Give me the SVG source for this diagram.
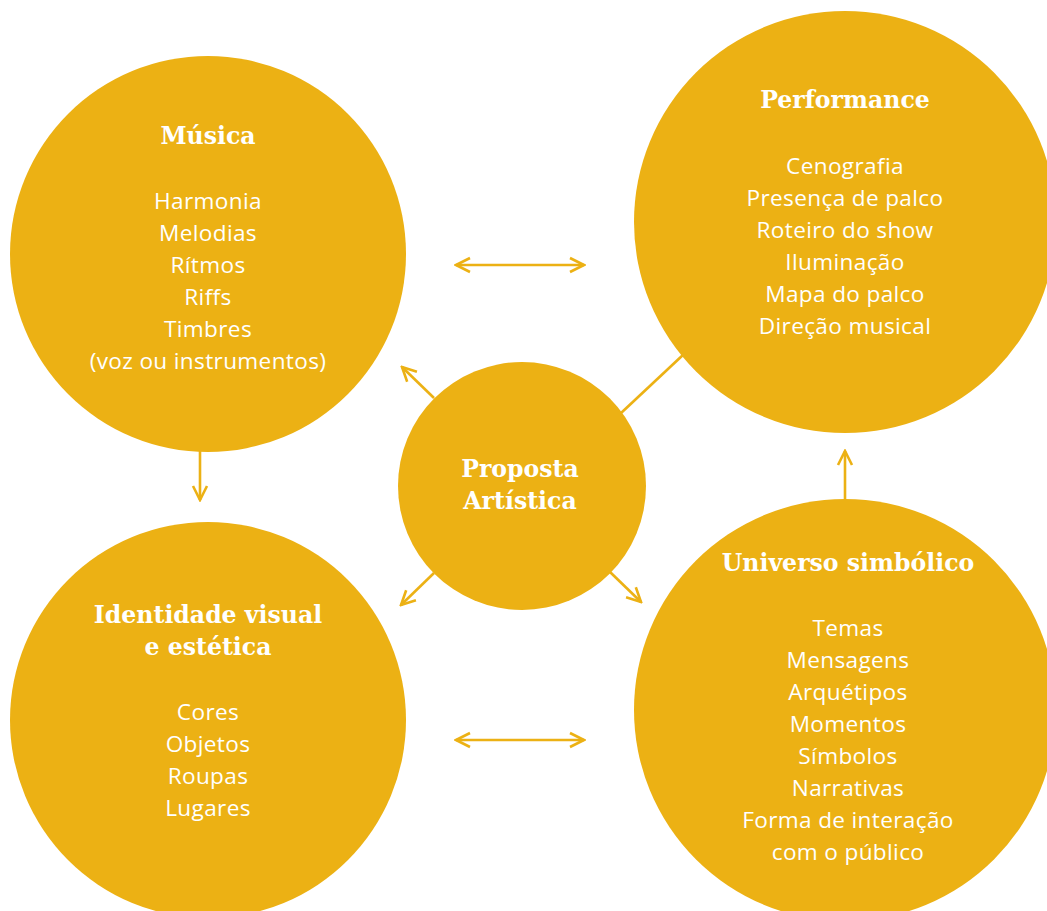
<svg xmlns="http://www.w3.org/2000/svg" width="1047" height="911" viewBox="0 0 1047 911">
  <style>
    .node { fill: #ECB114; }
    .title { font-family: "DejaVu Serif", "Liberation Serif", serif; font-weight: bold; font-size: 23.6px; fill: #ffffff; text-anchor: middle; }
    .item { font-family: "Open Sans", "Noto Sans", sans-serif; font-size: 22.6px; letter-spacing: 0.35px; fill: #ffffff; text-anchor: middle; }
    .link { stroke: #ECB114; stroke-width: 2.6; fill: none; }
  </style>
  <defs>
    <marker id="head" viewBox="0 0 20 20" refX="18" refY="10" markerWidth="20" markerHeight="20" markerUnits="userSpaceOnUse" orient="auto-start-reverse">
      <path d="M4 3 L18 10 L4 17" fill="none" stroke="#ECB114" stroke-width="2.6"/>
    </marker>
  </defs>

  <g id="connectors">
    <line class="link" x1="456" y1="265" x2="584" y2="265" marker-start="url(#head)" marker-end="url(#head)"/>
    <line class="link" x1="456" y1="740" x2="584" y2="740" marker-start="url(#head)" marker-end="url(#head)"/>
    <line class="link" x1="200" y1="450" x2="200" y2="500" marker-end="url(#head)"/>
    <line class="link" x1="845" y1="502" x2="845" y2="451" marker-end="url(#head)"/>
    <line class="link" x1="434" y1="398" x2="402" y2="367" marker-end="url(#head)"/>
    <line class="link" x1="434" y1="573" x2="401" y2="605" marker-end="url(#head)"/>
    <line class="link" x1="610" y1="572" x2="641" y2="602" marker-end="url(#head)"/>
    <line class="link" x1="620" y1="414" x2="684" y2="354"/>
  </g>

  <g id="musica">
    <circle class="node" cx="208" cy="254" r="198"/>
    <text class="title" x="208" y="144">Música</text>
    <text class="item" x="208" y="209">Harmonia</text>
    <text class="item" x="208" y="241">Melodias</text>
    <text class="item" x="208" y="273">Rítmos</text>
    <text class="item" x="208" y="305">Riffs</text>
    <text class="item" x="208" y="337">Timbres</text>
    <text class="item" x="208" y="369">(voz ou instrumentos)</text>
  </g>

  <g id="performance">
    <circle class="node" cx="845" cy="222" r="211"/>
    <text class="title" x="845" y="108">Performance</text>
    <text class="item" x="845" y="174">Cenografia</text>
    <text class="item" x="845" y="206">Presença de palco</text>
    <text class="item" x="845" y="238">Roteiro do show</text>
    <text class="item" x="845" y="270">Iluminação</text>
    <text class="item" x="845" y="302">Mapa do palco</text>
    <text class="item" x="845" y="334">Direção musical</text>
  </g>

  <g id="proposta">
    <circle class="node" cx="522" cy="486" r="124"/>
    <text class="title" x="520" y="477">Proposta</text>
    <text class="title" x="520" y="509">Artística</text>
  </g>

  <g id="identidade">
    <circle class="node" cx="208" cy="720" r="198"/>
    <text class="title" x="208" y="623">Identidade visual</text>
    <text class="title" x="208" y="655">e estética</text>
    <text class="item" x="208" y="720">Cores</text>
    <text class="item" x="208" y="752">Objetos</text>
    <text class="item" x="208" y="784">Roupas</text>
    <text class="item" x="208" y="816">Lugares</text>
  </g>

  <g id="universo">
    <circle class="node" cx="845" cy="710" r="211"/>
    <text class="title" x="848" y="571">Universo simbólico</text>
    <text class="item" x="848" y="636">Temas</text>
    <text class="item" x="848" y="668">Mensagens</text>
    <text class="item" x="848" y="700">Arquétipos</text>
    <text class="item" x="848" y="732">Momentos</text>
    <text class="item" x="848" y="764">Símbolos</text>
    <text class="item" x="848" y="796">Narrativas</text>
    <text class="item" x="848" y="828">Forma de interação</text>
    <text class="item" x="848" y="860">com o público</text>
  </g>
</svg>
